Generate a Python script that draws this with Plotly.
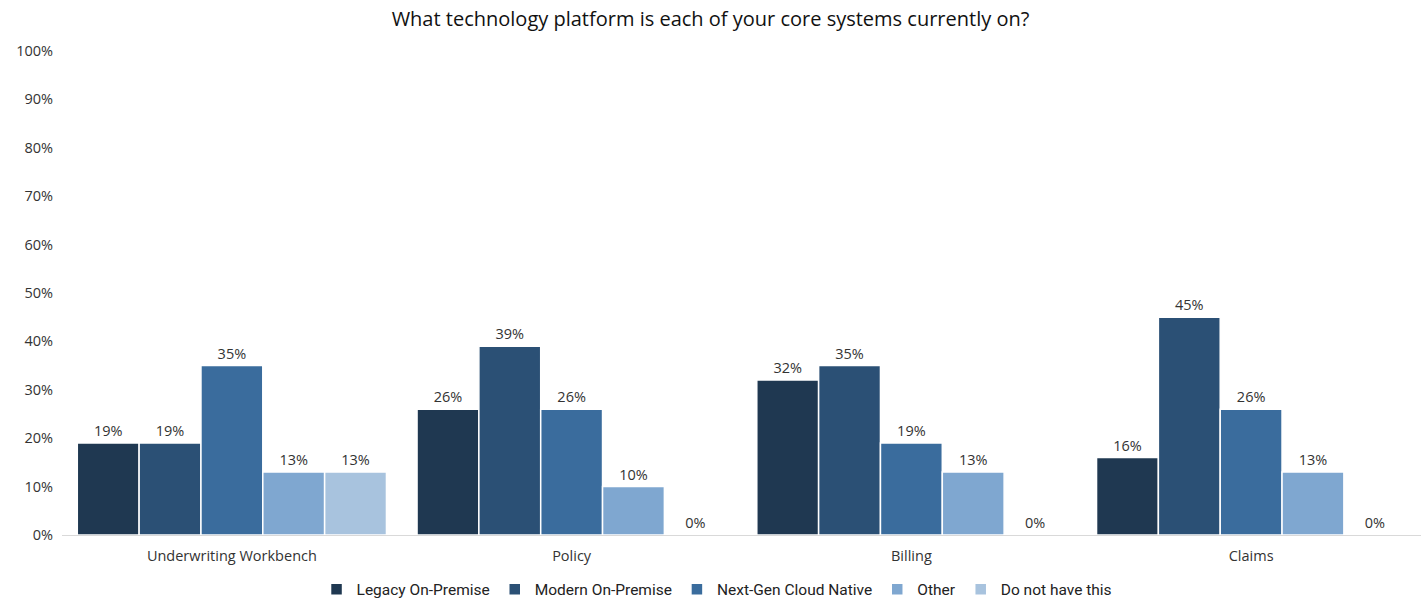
import plotly.graph_objects as go

# Survey results: share of respondents per platform for each core system
categories = ["Underwriting Workbench", "Policy", "Billing", "Claims"]
series_names = [
    "Legacy On-Premise",
    "Modern On-Premise",
    "Next-Gen Cloud Native",
    "Other",
    "Do not have this",
]
legacy_on_premise = [19, 26, 32, 16]
modern_on_premise = [19, 39, 35, 45]
next_gen_cloud_native = [35, 26, 19, 26]
other = [13, 10, 13, 13]
do_not_have_this = [13, 0, 0, 0]

y_ticks = [0, 10, 20, 30, 40, 50, 60, 70, 80, 90, 100]
y_tick_labels = [f"{v}%" for v in y_ticks]

colors = ["#1f3851", "#2b5075", "#3a6c9d", "#7fa7d0", "#a8c3de"]
series_values = [
    legacy_on_premise,
    modern_on_premise,
    next_gen_cloud_native,
    other,
    do_not_have_this,
]

label_font = dict(family="Open Sans, Liberation Sans, sans-serif", size=14.5, color="#333333")

fig = go.Figure()
for name, values, color in zip(series_names, series_values, colors):
    fig.add_trace(
        go.Bar(
            x=categories,
            y=values,
            name=name,
            marker=dict(color=color, line=dict(color="white", width=1.5)),
            text=[f"{v}%" for v in values],
            textposition="outside",
            textfont=label_font,
            cliponaxis=False,
        )
    )

fig.update_layout(
    width=1421,
    height=599,
    barmode="group",
    bargap=0.09,
    bargroupgap=0,
    plot_bgcolor="white",
    paper_bgcolor="white",
    margin=dict(l=62, r=0, t=51, b=64, autoexpand=False),
    title=dict(
        text="What technology platform is each of your core systems currently on?",
        x=0.5,
        xanchor="center",
        y=0.968,
        yanchor="middle",
        font=dict(family="Open Sans, Liberation Sans, sans-serif", size=20, color="#111111"),
    ),
    xaxis=dict(
        showline=True,
        linecolor="#d9d9d9",
        linewidth=1,
        ticks="",
        ticklabelstandoff=8,
        tickfont=label_font,
        showgrid=False,
    ),
    yaxis=dict(
        range=[0, 100],
        tickvals=y_ticks,
        ticktext=y_tick_labels,
        showgrid=False,
        zeroline=False,
        showline=False,
        ticks="",
        ticklabelstandoff=8,
        tickfont=label_font,
    ),
    legend=dict(
        orientation="h",
        x=0.482,
        xanchor="center",
        y=-0.113,
        yanchor="middle",
        font=dict(family="Roboto, sans-serif", size=15.5, color="#222222"),
        itemwidth=30,
    ),
)

fig.write_html("out.html")
